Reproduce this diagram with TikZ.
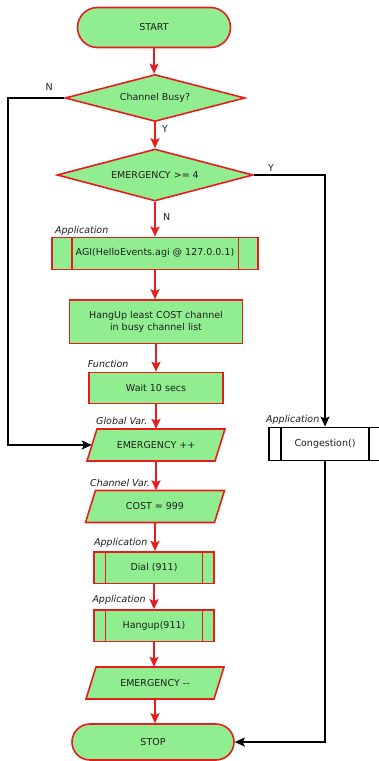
\documentclass[tikz,border=0pt]{standalone}
\usepackage{fontspec}
\setmainfont{DejaVu Sans}
\usetikzlibrary{shapes.geometric,shapes.misc,arrows.meta}
\definecolor{boxfill}{RGB}{144,238,144}
\definecolor{flowred}{RGB}{232,28,28}
\definecolor{ink}{RGB}{30,30,30}

% parallelogram (data) block: name, centre x, centre y, half width, text
\newcommand\ioblock[5]{%
  \filldraw[fill=boxfill,draw=flowred,line width=1.6pt]
    (#2-#4+5,#3-16) -- (#2+#4+5,#3-16) -- (#2+#4-5,#3+16) -- (#2-#4-5,#3+16) -- cycle;
  \node[ioslot,minimum width={2*#4}] (#1) at (#2,#3) {#5};
}
% side bars of a predefined-process box: node name, inset, colour
\newcommand\sidebars[3]{%
  \draw[#3,line width=1.6pt] ([xshift=#2]#1.north west) -- ([xshift=#2]#1.south west);
  \draw[#3,line width=1.6pt] ([xshift=-#2]#1.north east) -- ([xshift=-#2]#1.south east);
}

\begin{document}
\begin{tikzpicture}[x=1pt,y=-1pt,
  font=\fontsize{9.5}{12.6}\selectfont, text=ink,
  base/.style={fill=boxfill,draw=flowred,line width=1.6pt,inner sep=0pt},
  terminal/.style={base,rounded rectangle},
  decision/.style={base,diamond},
  process/.style={base,rectangle},
  ioslot/.style={rectangle,inner sep=0pt,minimum height=32pt},
  flow/.style={draw=flowred,line width=2pt,-{Stealth[length=10pt,width=9pt,inset=2pt]}},
  link/.style={draw=black,line width=1.5pt,-{Stealth[length=10pt,width=9pt,inset=2pt]}},
  tag/.style={font=\fontsize{9.5}{11}\selectfont\itshape,anchor=west,inner sep=0pt},
  yn/.style={inner sep=0pt}]

\useasboundingbox (0,0) rectangle (378,761);

% main column
\node[terminal,minimum width=153pt,minimum height=40pt] (start) at (154,27.5) {START};
\node[decision,aspect=3.83,minimum width=180pt,minimum height=47pt] (busy) at (155,98) {Channel Busy?};
\node[decision,aspect=3.77,minimum width=196pt,minimum height=52pt] (emerg) at (155,175) {EMERGENCY >= 4};

\node[process,minimum width=206pt,minimum height=32pt] (agi) at (155,253.3) {AGI(HelloEvents.agi @ 127.0.0.1)};
\sidebars{agi}{20.5pt}{flowred}

\node[process,minimum width=173pt,minimum height=43.5pt,align=center] (hang) at (156,321.8)
  {HangUp least COST channel\\ in busy channel list};
\node[process,minimum width=134pt,minimum height=31pt] (wait) at (156,388) {Wait 10 secs};

\ioblock{inc}{156}{445}{64}{EMERGENCY ++}
\ioblock{cost}{155}{506.5}{64.5}{COST = 999}

\node[process,minimum width=119.5pt,minimum height=31.6pt] (dial) at (154,567.5) {Dial (911)};
\sidebars{dial}{12pt}{flowred}
\node[process,minimum width=120.5pt,minimum height=31.7pt] (hup) at (154,625.8) {Hangup(911)};
\sidebars{hup}{12.5pt}{flowred}

\ioblock{dec}{155}{683}{64}{EMERGENCY \mbox{-}\mbox{-}}

\node[terminal,minimum width=162pt,minimum height=36pt] (stop) at (153,742) {STOP};

% congestion branch
\node[rectangle,draw=black,fill=white,line width=1.5pt,inner sep=0pt,
      minimum width=112pt,minimum height=33.4pt] (cong) at (325,444) {Congestion()};
\sidebars{cong}{12.7pt}{black}

% category labels
\node[tag] (tagagi) at (55,231.3) {Application};
\node[tag] (tagwait) at (87.7,364) {Function};
\node[tag] (taginc) at (96,421.3) {Global Var.};
\node[tag] (tagcost) at (90,482.7) {Channel Var.};
\node[tag] (tagdial) at (94,542.7) {Application};
\node[tag] (taghup) at (92.3,600) {Application};
\node[tag] (tagcong) at (266,420) {Application};

% branch labels
\node[yn] (nbusy) at (49.3,86.7) {N};
\node[yn] (ybusy) at (165,129.3) {Y};
\node[yn] (yemerg) at (271,167.7) {Y};
\node[yn] (nemerg) at (166.7,217.3) {N};

% red flow
\draw[flow] (start.south) -- (busy.north -| start.south);
\draw[flow] (busy.south) -- (emerg.north);
\draw[flow] (emerg.south) -- (agi.north -| emerg.south);
\draw[flow] (agi.south) -- (hang.north -| agi.south);
\draw[flow] (hang.south) -- (wait.north -| hang.south);
\draw[flow] (wait.south) -- (inc.north -| wait.south);
\draw[flow] (inc.south) -- (cost.north -| inc.south);
\draw[flow] (cost.south) -- (dial.north -| cost.south);
\draw[flow] (dial.south) -- (hup.north);
\draw[flow] (hup.south) -- (dec.north -| hup.south);
\draw[flow] (dec.south) -- (stop.north -| dec.south);

% black side paths
\coordinate (loopleft) at (8,98);
\draw[link] (busy.west) -- (loopleft) |- (inc.west);
\draw[link] (emerg.east) -| (cong.north);
\draw[link] (cong.south) |- (stop.east);
\end{tikzpicture}
\end{document}
